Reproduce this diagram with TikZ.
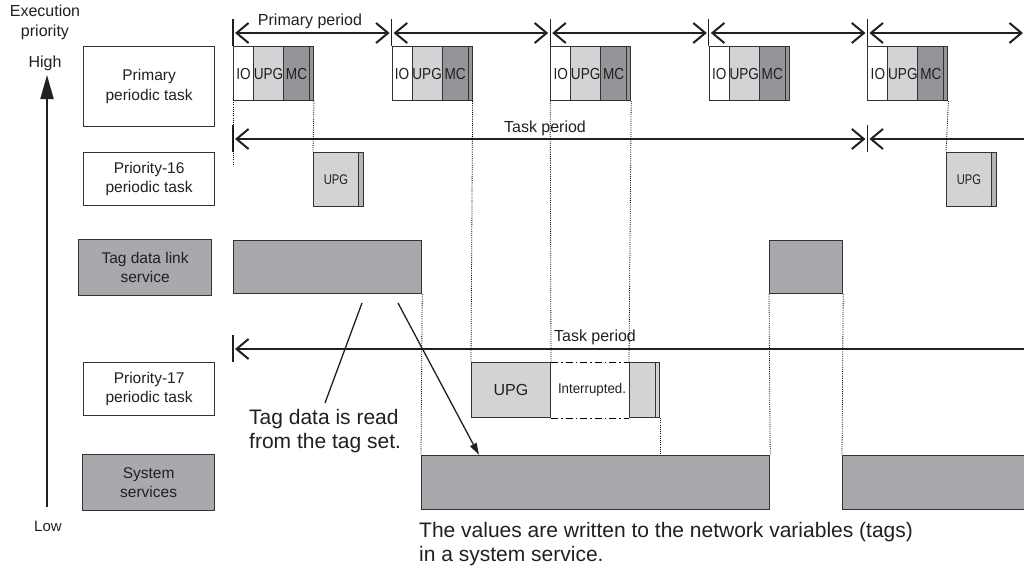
\documentclass[tikz,border=0pt]{standalone}
\usepackage{fontspec}
\usepackage{graphicx}
\setmainfont{Liberation Sans}
\usetikzlibrary{arrows.meta}
\definecolor{lg}{HTML}{D1D3D4}
\definecolor{dg}{HTML}{939598}
\definecolor{mg}{HTML}{A7A9AC}
\definecolor{bd}{HTML}{333333}
\definecolor{tx}{HTML}{231F20}
\newcommand\condtxt[2][0.85]{\scalebox{#1}[1]{#2}}
\begin{document}
\begin{tikzpicture}[x=1pt,y=-1pt,
  txt/.style={inner sep=0pt, align=center, text=tx, font=\fontsize{16}{20}\selectfont},
  lbox/.style={draw=bd, line width=1.2pt, inner sep=0pt, align=center, anchor=north west, text=tx, font=\fontsize{15.5}{19.5}\selectfont},
  bar/.style={draw=bd, line width=1.2pt, inner sep=0pt, anchor=north west, fill=mg},
  cell/.style={draw=bd, line width=1pt, inner sep=0pt, anchor=north west, text=tx, font=\fontsize{16}{16}\selectfont},
  guide/.style={line width=0.8pt, dash pattern=on 1pt off 1.2pt, draw=black},
  tick/.style={line width=1.3pt, draw=tx},
  per/.style={line width=2pt, draw=tx},
  note/.style={inner sep=0pt, align=left, anchor=north west, text=tx, font=\fontsize{21}{24.5}\selectfont},
  dashdot/.style={line width=1pt, dash pattern=on 7pt off 3pt on 1.5pt off 3pt},
  >={Straight Barb[length=12pt,width=20pt,line width=2pt]}
]
\useasboundingbox (0,0) rectangle (1024,570);
\clip (0,0) rectangle (1024,570);

% ---- priority axis
\node[txt] (exec) at (45,22) {Execution\\priority};
\node[txt] (high) at (45,63) {High};
\node[txt, font=\fontsize{15}{18}\selectfont] (low) at (48,526) {Low};
\coordinate (pa0) at (47,507);
\coordinate (pa1) at (47,75);
\draw[line width=2pt, draw=tx, -{Triangle[length=24pt,width=13pt]}] (pa0) -- (pa1);

% ---- row labels
\node[lbox, minimum width=131pt, minimum height=80pt] (lp) at (83,46) {Primary\\periodic task};
\node[lbox, minimum width=131pt, minimum height=53pt] (l16) at (83,152) {Priority-16\\periodic task};
\node[lbox, minimum width=133pt, minimum height=56pt, fill=mg] (ltag) at (78,239) {Tag data link\\service};
\node[lbox, minimum width=131pt, minimum height=53pt] (l17) at (83,362) {Priority-17\\periodic task};
\node[lbox, minimum width=132pt, minimum height=56pt, fill=mg] (lsys) at (82,454) {System\\services};

% ---- primary periodic task blocks and primary period arrows
\foreach \i in {0,...,4}{
  \pgfmathsetmacro\s{233+158.6*\i}
  \node[cell, fill=white, minimum width=20pt, minimum height=54pt] (io\i) at (\s,46) {\condtxt{IO}};
  \node[cell, fill=lg, minimum width=30pt, minimum height=54pt] (upg\i) at (\s+20,46) {\condtxt{UPG}};
  \node[cell, fill=dg, minimum width=26pt, minimum height=54pt] (mc\i) at (\s+50,46) {\condtxt{MC}};
  \node[cell, fill=dg, minimum width=4pt, minimum height=54pt] (st\i) at (\s+76,46) {};
  \coordinate (t\i) at (\s,33);
  \draw[tick] (\s,19) -- (\s,46);
}
\coordinate (tend) at (1023,33);
\foreach \i/\j in {0/1,1/2,2/3,3/4}{
  \draw[per,<->,shorten <=2pt,shorten >=2pt] (t\i) -- (t\j);
}
\draw[per,<->,shorten <=2pt] (t4) -- (tend);
\node[txt] (pplabel) at (310,21) {Primary period};

% ---- priority-16 task period
\coordinate (a16) at (233,139);
\coordinate (b16) at (867.4,139);
\coordinate (c16) at (1030,139);
\draw[tick] (233,125) -- (233,152);
\draw[tick] (867.4,125) -- (867.4,152);
\draw[per,<->,shorten <=2pt,shorten >=2pt] (a16) -- (b16);
\draw[per,<-,shorten <=2pt] (b16) -- (c16);
\node[txt] (tp16) at (545,128) {Task period};

% ---- priority-16 blocks
\node[cell, fill=lg, minimum width=45pt, minimum height=54pt, font=\fontsize{14}{14}\selectfont] (u16a) at (313,152) {\condtxt[0.8]{UPG}};
\node[cell, fill=dg!70, minimum width=5pt, minimum height=54pt] (u16as) at (358,152) {};
\node[cell, fill=lg, minimum width=45pt, minimum height=54pt, font=\fontsize{14}{14}\selectfont] (u16b) at (946,152) {\condtxt[0.8]{UPG}};
\node[cell, fill=dg!70, minimum width=5pt, minimum height=54pt] (u16bs) at (991,152) {};

% ---- tag data link service bars
\node[bar, minimum width=188pt, minimum height=53pt] (tag1) at (233,240) {};
\node[bar, minimum width=73pt, minimum height=53pt] (tag2) at (769,240) {};

% ---- priority-17 task period
\coordinate (a17) at (233,349);
\coordinate (b17) at (1030,349);
\draw[tick] (233,335) -- (233,362);
\draw[per,<-,shorten <=2pt] (a17) -- (b17);
\node[txt] (tp17) at (595,337) {Task period};

% ---- priority-17 blocks
\node[cell, fill=lg, minimum width=79pt, minimum height=55pt] (u17) at (471,362) {UPG};
\node[cell, fill=lg, minimum width=26pt, minimum height=55pt] (u17b) at (629,362) {};
\node[cell, fill=lg, minimum width=4pt, minimum height=55pt] (u17s) at (655,362) {};
\draw[dashdot] (u17.north east) -- (u17b.north west);
\draw[dashdot] (u17.south east) -- (u17b.south west);
\node[txt, font=\fontsize{14}{14}\selectfont] (intr) at (592,390) {\condtxt[0.95]{Interrupted.}};

% ---- system service bars
\node[bar, minimum width=348pt, minimum height=54pt] (sys1) at (421,455) {};
\node[bar, minimum width=200pt, minimum height=54pt] (sys2) at (842,455) {};

% ---- dotted guides
\draw[guide] (233,100) -- (233,165);
\draw[guide] (st0.south east) -- (u16a.north west);
\draw[guide] (st1.south east) -- (u17.north west);
\draw[guide] (io2.south west) -- (u17.north east);
\draw[guide] (st2.south east) -- (u17b.north west);
\draw[guide] (st4.south east) -- (u16b.north west);
\draw[guide] (tag1.south east) -- (sys1.north west);
\draw[guide] (tag2.south west) -- (sys1.north east);
\draw[guide] (tag2.south east) -- (sys2.north west);
\draw[guide] (u17s.south east) -- (u17s.south east |- sys1.north);

% ---- annotations
\node[note] (readtxt) at (249,409) {Tag data is read\\from the tag set.};
\coordinate (r0) at (362,303);
\coordinate (r1) at (325,403);
\draw[line width=1.3pt, draw=tx] (r0) -- (r1);
\coordinate (w0) at (398,303);
\coordinate (w1) at (479,455);
\draw[line width=1.3pt, draw=tx, -{Triangle[length=12pt,width=7pt]}] (w0) -- (w1);
\node[note] (writetxt) at (419,522) {The values are written to the network variables (tags)\\in a system service.};
\end{tikzpicture}
\end{document}
